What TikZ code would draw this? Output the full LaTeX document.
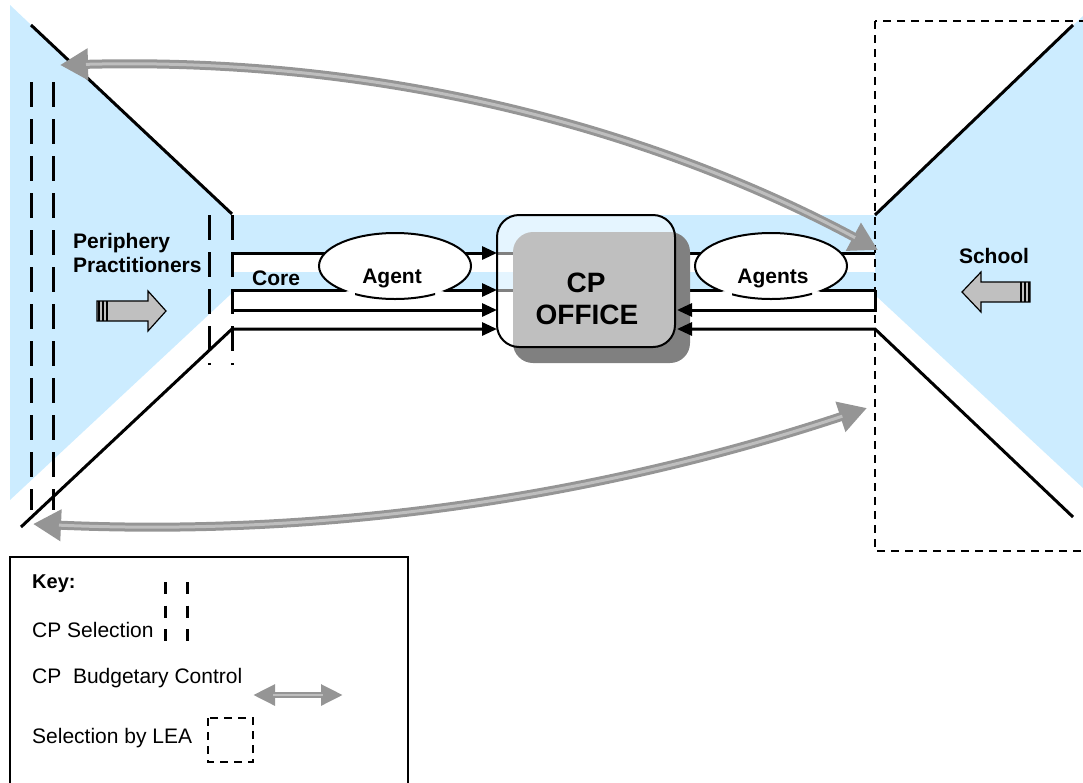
\documentclass[tikz,border=0pt]{standalone}
\usepackage{fontspec}
\setmainfont{Liberation Sans}
\usetikzlibrary{arrows.meta}
\definecolor{lblue}{HTML}{CCECFF}
\definecolor{shadowgray}{HTML}{808080}
\definecolor{arrgray}{HTML}{959595}
\definecolor{arrlight}{HTML}{BEBEBE}
\definecolor{blockgray}{HTML}{C0C0C0}
\begin{document}
\begin{tikzpicture}[x=1pt,y=-1pt,
  blk/.style={line width=3pt},
  tipr/.style={-{Triangle[length=15pt,width=13pt]}},
  seldash/.style={line width=3pt, dash pattern=on 25pt off 12pt},
  leadash/.style={line width=2pt, dash pattern=on 8pt off 6pt},
  boldlbl/.style={font=\fontsize{21}{24}\selectfont\bfseries, inner sep=0pt},
  keylbl/.style={font=\fontsize{21}{24}\selectfont, inner sep=0pt},
  biglbl/.style={font=\fontsize{28}{32}\selectfont\bfseries, inner sep=0pt},
  garrow/.style={line width=9pt, draw=arrgray,
     {Triangle[length=28pt,width=30pt]}-{Triangle[length=28pt,width=30pt]}},
  glight/.style={line width=3pt, draw=arrlight, shorten >=26pt, shorten <=26pt},
  gsmall/.style={line width=6pt, draw=arrgray,
     {Triangle[length=22pt,width=20pt]}-{Triangle[length=22pt,width=20pt]}},
  blockarrow/.style={fill=blockgray, draw=black, line width=1.2pt, line join=miter},
  stripe/.style={line width=2pt}
]
\useasboundingbox (0,0) rectangle (1083,782);

% ---------- coordinates ----------
\coordinate (ulA) at (31,25);   \coordinate (ulB) at (232,214);
\coordinate (llA) at (21,527);  \coordinate (llB) at (232,329);
\coordinate (urA) at (1073,25); \coordinate (urB) at (875,215);
\coordinate (lrA) at (1073,517);\coordinate (lrB) at (875,329);
\coordinate (l1) at (232,253); \coordinate (l1e) at (497,253); \coordinate (l1h) at (513,253);
\coordinate (l2) at (232,290); \coordinate (l2e) at (497,290); \coordinate (l2h) at (513,290);
\coordinate (l3) at (232,310); \coordinate (l3e) at (497,310);
\coordinate (l4e) at (497,329);
\coordinate (r1) at (875,253); \coordinate (r1e) at (682,253);
\coordinate (r2) at (875,290); \coordinate (r2e) at (682,290);
\coordinate (r3) at (875,310); \coordinate (r3e) at (677,310);
\coordinate (r4e) at (677,329);

% ---------- blue backgrounds ----------
\fill[lblue] (10,5) -- (232,215) -- (232,293) -- (10,500) -- cycle;
\fill[lblue] (232,215) rectangle (875,290);
\fill[white] (232,253) rectangle (875,272);
\fill[lblue] (875,215) -- (1083,16) -- (1083,488) -- (875,295) -- cycle;

% ---------- LEA dashed rectangle ----------
\draw[leadash] (875,21) rectangle (1095,551);

% ---------- selection dashed lines ----------
\draw[seldash] (31,82) -- (31,510);
\draw[seldash] (53,82) -- (53,510);
\draw[seldash] (209,215) -- (209,365);
\draw[seldash] (232,215) -- (232,365);

% ---------- black diagonals and channels ----------
\draw[blk] (ulA) -- (ulB);
\draw[blk] (urA) -- (urB);
\draw[blk] (l1e) -- (l1h);
\draw[blk] (l2e) -- (l2h);
\draw[blk, tipr] (l1) -- (l1e);
\draw[blk, tipr] (l2) -- (l2e);
\draw[blk, tipr] (l3) -- (l3e);
\draw[blk, tipr, line join=miter] (llA) -- (llB) -- (l4e);
\draw[blk] (r1) -- (r1e);
\draw[blk] (r2e) -- (r2);

% ---------- agent clouds ----------
\fill[white] (395,266) ellipse [x radius=76, y radius=33];
\fill[white] (771,266) ellipse [x radius=76, y radius=33];
\begin{scope}
  \clip (300,200) rectangle (500,291) (355,291) rectangle (435,310);
  \draw[line width=2pt] (395,266) ellipse [x radius=76, y radius=33];
\end{scope}
\begin{scope}
  \clip (680,200) rectangle (870,291) (732,291) rectangle (812,310);
  \draw[line width=2pt] (771,266) ellipse [x radius=76, y radius=33];
\end{scope}

% ---------- CP office ----------
\fill[shadowgray, rounded corners=20pt] (513,232) rectangle (690,363);
\draw[line width=2pt, fill=white, fill opacity=0.5, rounded corners=22pt] (497,215) rectangle (675,347);
\node[biglbl, anchor=base] (cp) at (586,292) {CP};
\node[biglbl, anchor=base] (office) at (587,324) {OFFICE};

% right channels into the office
\draw[blk, tipr, line join=miter] (r2) -- (r3) -- (r3e);
\draw[blk, tipr, line join=miter] (lrA) -- (lrB) -- (r4e);

% ---------- budgetary control arrows ----------
\coordinate (tl) at (60,65);  \coordinate (tr) at (878,250);
\coordinate (bl) at (33,524); \coordinate (br) at (867,408);
\draw[garrow] (tl) .. controls (450,55) and (720,165) .. (tr);
\draw[glight] (tl) .. controls (450,55) and (720,165) .. (tr);
\draw[garrow] (bl) .. controls (400,540) and (680,470) .. (br);
\draw[glight] (bl) .. controls (400,540) and (680,470) .. (br);

% ---------- block arrows ----------
\draw[blockarrow] (97,301) -- (148,301) -- (148,291) -- (166,311) -- (148,331) -- (148,321) -- (97,321) -- cycle;
\draw[stripe] (98.5,301) -- (98.5,321) (102.5,301) -- (102.5,321) (106.5,301) -- (106.5,321);
\draw[blockarrow] (1030,282) -- (981,282) -- (981,272) -- (962,292) -- (981,312) -- (981,302) -- (1030,302) -- cycle;
\draw[stripe] (1028.5,282) -- (1028.5,302) (1024.5,282) -- (1024.5,302) (1020.5,282) -- (1020.5,302);

% ---------- labels ----------
\node[boldlbl, anchor=base west] (peri1) at (73,248) {Periphery};
\node[boldlbl, anchor=base west] (peri2) at (73,272) {Practitioners};
\node[boldlbl, anchor=base west] (core) at (252,285) {Core};
\node[boldlbl, anchor=base] (agent) at (392,283) {Agent};
\node[boldlbl, anchor=base] (agents) at (773,283) {Agents};
\node[boldlbl, anchor=base] (school) at (994,263) {School};

% ---------- key ----------
\draw[line width=2pt] (10,557) rectangle (408,800);
\node[boldlbl, anchor=base west, font=\fontsize{20}{24}\selectfont\bfseries] (keyt) at (32,588) {Key:};
\node[keylbl, anchor=base west] (ksel) at (32,637) {CP Selection};
\node[keylbl, anchor=base west] (kbud) at (32,683) {CP\ \ Budgetary Control};
\node[keylbl, anchor=base west] (klea) at (32,743) {Selection by LEA};
\draw[line width=3pt, dash pattern=on 12pt off 11.5pt] (165,582) -- (165,642);
\draw[line width=3pt, dash pattern=on 12pt off 11.5pt] (187,582) -- (187,642);
\coordinate (kbA) at (253,695); \coordinate (kbB) at (343,695);
\draw[gsmall] (kbA) -- (kbB);
\draw[line width=2pt, draw=arrlight, shorten >=20pt, shorten <=20pt] (kbA) -- (kbB);
\draw[leadash] (208,718) rectangle (253,762);
\end{tikzpicture}
\end{document}
